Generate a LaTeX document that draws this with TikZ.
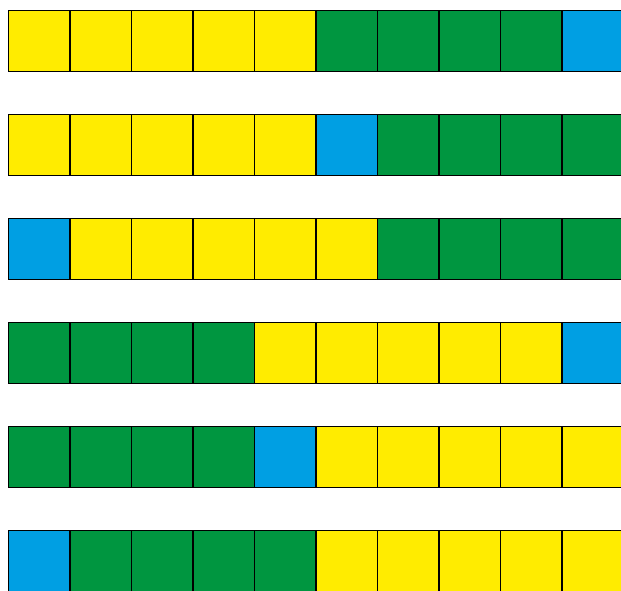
\documentclass[tikz,border=0pt]{standalone}
\definecolor{cy}{HTML}{FFEC00}
\definecolor{cg}{HTML}{009640}
\definecolor{cb}{HTML}{009FE3}
\tikzset{cell/.style={draw=black,line width=1.6pt,minimum width=61.5pt,minimum height=61pt,inner sep=0pt,outer sep=0pt,anchor=north west}}
\begin{document}
\begin{tikzpicture}[x=1pt,y=-1pt]
\useasboundingbox (0,0) rectangle (621,590);
\clip (0,0) rectangle (621,590);
\fill[white] (0,0) rectangle (621,590);
\foreach \row/\seq in {0/{cy,cy,cy,cy,cy,cg,cg,cg,cg,cb},
                       1/{cy,cy,cy,cy,cy,cb,cg,cg,cg,cg},
                       2/{cb,cy,cy,cy,cy,cy,cg,cg,cg,cg},
                       3/{cg,cg,cg,cg,cy,cy,cy,cy,cy,cb},
                       4/{cg,cg,cg,cg,cb,cy,cy,cy,cy,cy},
                       5/{cb,cg,cg,cg,cg,cy,cy,cy,cy,cy}}{
  \foreach \c [count=\i from 0] in \seq {
    \node[cell,fill=\c] (s\row-\i) at ({8.5+61.5*\i},{10.5+104*\row}) {};
  }
}
\end{tikzpicture}
\end{document}
